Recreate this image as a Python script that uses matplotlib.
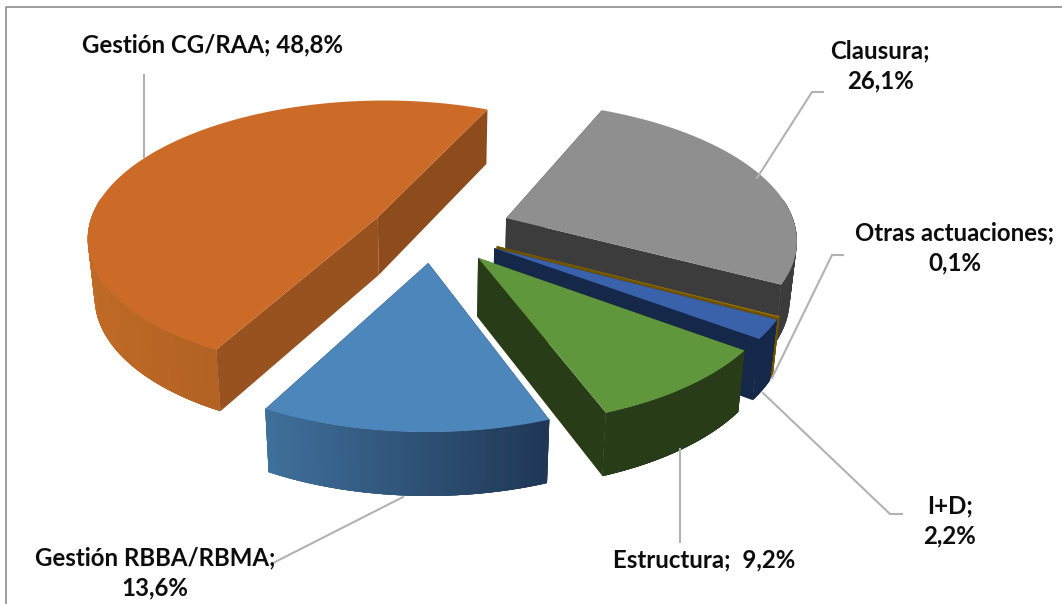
import numpy as np
import matplotlib
matplotlib.use("Agg")
import matplotlib.pyplot as plt
from matplotlib.patches import Polygon
from matplotlib.colors import to_rgb

#Data
labels = ["Clausura;\n26,1%", "Otras actuaciones;\n0,1%", "I+D;\n2,2%",
          "Estructura;  9,2%", "Gestión RBBA/RBMA;\n13,6%", "Gestión CG/RAA; 48,8%"]
values = [26.1, 0.1, 2.2, 9.2, 13.6, 48.8]

#Styles, same order as values
explode = [0.27, 0.245, 0.245, 0.25, 0.235, 0.215]
top_colors = ["#8f8f8f", "#a87a00", "#3a62aa", "#60973c", "#4d86ba", "#cc6b27"]
wall_left = ["#3c3c3c", "#6e5200", "#15284a", "#283c18", "#3f6f9b", "#c06a26"]
wall_right = ["#3c3c3c", "#6e5200", "#15284a", "#283c18", "#1f3654", "#96511f"]
face_start = ["#3c3c3c", "#6e5200", "#15284a", "#283c18", "#1f3654", "#985220"]
face_end = ["#3c3c3c", "#6e5200", "#15284a", "#283c18", "#1f3654", "#8e4b1b"]
label_pos = [(880, 66), (955, 248), (950, 521), (704, 560), (155, 573), (212, 45)]
leaders = [[(823, 92), (812, 92), (757, 178)],
           [(843, 255), (832, 255), (772, 378)],
           [(902, 514), (890, 514), (763, 393)],
           [(680, 542), (680, 449)],
           [(275, 562), (403, 497)],
           [(144, 75), (144, 157)]]

#Projection settings, in pixels of the final picture
start_angle = 24
cx, cy = 433, 230
rx, ry = 290, 136
persp = 0.137
depth = 58
converge = 0.02  #bottom edge narrows a bit, camera looks down


def project(x, y, z=0.0):
    s = 1 / (1 - persp * y)
    return (cx + rx * x * s * (1 - converge * z),
            cy + ry * y * s + depth * z * (0.5 + 0.5 * s))


fig = plt.figure(figsize=(10.62, 6.04), dpi=100)
ax = fig.add_axes([0, 0, 1, 1])
ax.set_xlim(0, 1062)
ax.set_ylim(604, 0)
ax.axis("off")

#Chart frame, only top and left show
ax.plot([6, 6, 1062], [604, 7, 7], color="#8c8c8c", lw=1.2, zorder=1)

bounds = start_angle + np.cumsum([0] + values) * 3.6

#Back slices first
order = [5, 0, 1, 2, 3, 4]
z = 2
for i in order:
    a0, a1 = bounds[i], bounds[i + 1]
    mid = np.radians((a0 + a1) / 2)
    ox = explode[i] * np.sin(mid)
    oy = -explode[i] * np.cos(mid)
    t = np.radians(np.linspace(a0, a1, max(int(a1 - a0) * 2, 4)))
    rim_x = ox + np.sin(t)
    rim_y = oy - np.cos(t)

    #Cut faces
    for end, color in ((0, face_start[i]), (-1, face_end[i])):
        pts = [project(ox, oy), project(rim_x[end], rim_y[end]),
               project(rim_x[end], rim_y[end], 1), project(ox, oy, 1)]
        ax.add_patch(Polygon(pts, closed=True, fc=color, ec="none", zorder=z))
    z += 1

    #Outer wall with gradient from left to right, strips overlap to hide seams
    top_x, top_y = project(rim_x, rim_y)
    bot_x, bot_y = project(rim_x, rim_y, 1)
    left, right = np.array(to_rgb(wall_left[i])), np.array(to_rgb(wall_right[i]))
    xmin, xmax = top_x.min(), top_x.max()
    visible = np.where(np.cos(t) < 0.14)[0]
    seq = visible[::-1] if i == 5 else visible
    for k in seq:
        n = min(k + 2, len(t) - 1)
        m = max(k - 2, 0)
        if n == m:
            continue
        f = (top_x[k] - xmin) / max(xmax - xmin, 1)
        color = left + (right - left) * f
        pts = [(top_x[m], top_y[m]), (top_x[n], top_y[n]),
               (bot_x[n], bot_y[n]), (bot_x[m], bot_y[m])]
        ax.add_patch(Polygon(pts, closed=True, fc=color, ec="none", zorder=z))
    z += 1

    #Top of the slice
    apex = project(ox, oy)
    pts = [apex] + list(zip(top_x, top_y))
    ax.add_patch(Polygon(pts, closed=True, fc=top_colors[i], ec="none", zorder=z))
    z += 1

#Leader lines and labels
for pts, lab, pos in zip(leaders, labels, label_pos):
    xs, ys = zip(*pts)
    ax.plot(xs, ys, color="#b2b2b2", lw=1.5, zorder=z, solid_joinstyle="miter")
    ax.text(pos[0], pos[1], lab, ha="center", va="center", family="Lato", weight="bold",
            fontsize=17.3, color="#0d0d0d", linespacing=1.33, zorder=z + 1)

fig.savefig("out.png", dpi=100, facecolor="white")
plt.close()
